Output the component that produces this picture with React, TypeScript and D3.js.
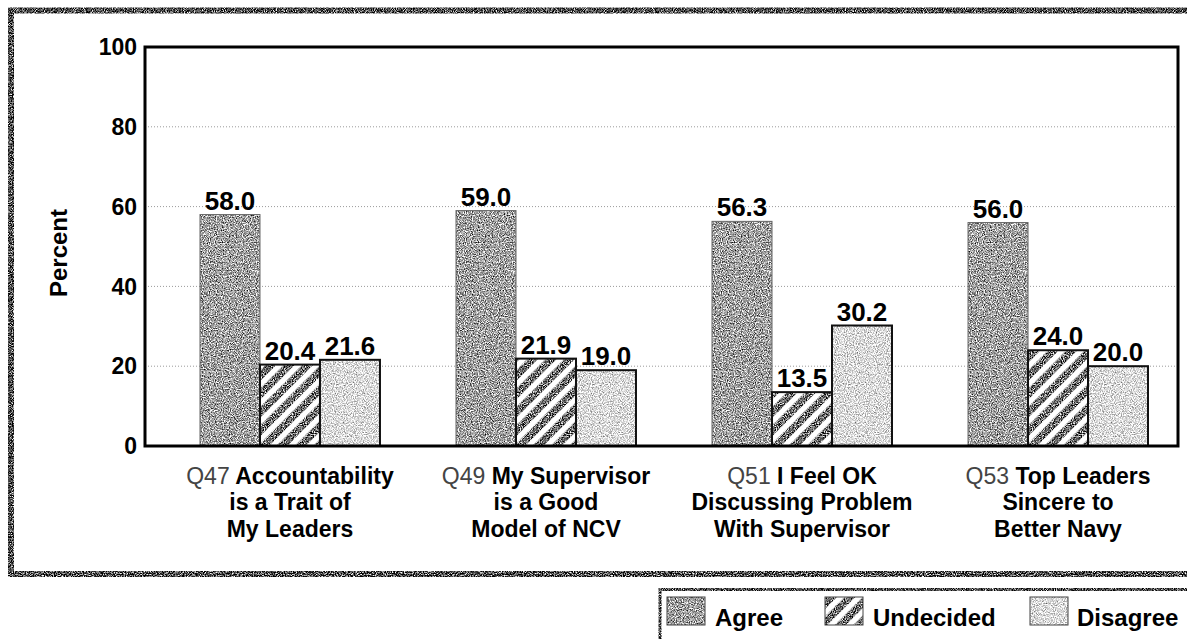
import React from "react";
import * as d3 from "d3";

const questionIds = ["Q47", "Q49", "Q51", "Q53"];
const labelLines = [
  ["Accountability", "is a Trait of", "My Leaders"],
  ["My Supervisor", "is a Good", "Model of NCV"],
  ["I Feel OK", "Discussing Problem", "With Supervisor"],
  ["Top Leaders", "Sincere to", "Better Navy"],
];
const seriesNames = ["Agree", "Undecided", "Disagree"];
const agree = [58.0, 59.0, 56.3, 56.0];
const undecided = [20.4, 21.9, 13.5, 24.0];
const disagree = [21.6, 19.0, 30.2, 20.0];
const yTicks = [0, 20, 40, 60, 80, 100];
const yLabel = "Percent";

const W = 1187;
const H = 639;
const FONT = "'Liberation Sans', Arial, Helvetica, sans-serif";

export default function App() {
  const seriesValues = [agree, undecided, disagree];
  const plot = { left: 145, right: 1178, top: 47, bottom: 446 };
  const y = d3.scaleLinear().domain([0, 100]).range([plot.bottom, plot.top]);
  const x0 = d3.scaleBand<string>().domain(questionIds).range([200, 1148]).paddingInner(0.297).paddingOuter(0);
  const x1 = d3.scaleBand<string>().domain(seriesNames).range([0, x0.bandwidth()]).padding(0);

  const fillFor = (s: string) =>
    s === "Agree" ? "url(#noiseAgree)" : s === "Undecided" ? "url(#noiseDark)" : "url(#noiseLight)";

  const renderSwatchFill = (s: string, x: number, yy: number, w: number, h: number, key: string) => (
    <g key={key}>
      <rect x={x} y={yy} width={w} height={h} fill="#000" filter={fillFor(s)} />
      {s === "Undecided" && <rect x={x} y={yy} width={w} height={h} fill="url(#stripes)" />}
    </g>
  );

  const legendX = [667, 825, 1030];
  const legendTextX = [715, 873, 1077];

  return (
    <svg width={W} height={H} style={{ position: "absolute", left: 0, top: 0, display: "block", background: "#fff" }} fontFamily={FONT}>
      <defs>
        <filter id="noiseAgree" x="0" y="0" width="100%" height="100%" colorInterpolationFilters="sRGB">
          <feTurbulence type="fractalNoise" baseFrequency="0.85" numOctaves={2} seed={3} result="t" />
          <feColorMatrix in="t" type="matrix" values="0 0 0 1.8 -0.27  0 0 0 1.8 -0.27  0 0 0 1.8 -0.27  0 0 0 0 1" result="g" />
          <feComposite in="g" in2="SourceGraphic" operator="in" />
        </filter>
        <filter id="noiseDark" x="0" y="0" width="100%" height="100%" colorInterpolationFilters="sRGB">
          <feTurbulence type="fractalNoise" baseFrequency="0.9" numOctaves={2} seed={7} result="t" />
          <feColorMatrix in="t" type="matrix" values="0 0 0 2.2 -0.68  0 0 0 2.2 -0.68  0 0 0 2.2 -0.68  0 0 0 0 1" result="g" />
          <feComposite in="g" in2="SourceGraphic" operator="in" />
        </filter>
        <filter id="noiseLight" x="0" y="0" width="100%" height="100%" colorInterpolationFilters="sRGB">
          <feTurbulence type="fractalNoise" baseFrequency="0.9" numOctaves={2} seed={11} result="t" />
          <feColorMatrix in="t" type="matrix" values="0 0 0 1.2 0.26  0 0 0 1.2 0.26  0 0 0 1.2 0.26  0 0 0 0 1" result="g" />
          <feComposite in="g" in2="SourceGraphic" operator="in" />
        </filter>
        <filter id="noiseFrame" filterUnits="userSpaceOnUse" x="0" y="0" width={W} height={H} colorInterpolationFilters="sRGB">
          <feTurbulence type="fractalNoise" baseFrequency="0.9" numOctaves={2} seed={5} result="t" />
          <feColorMatrix in="t" type="matrix" values="0 0 0 2.6 -1.0  0 0 0 2.6 -1.0  0 0 0 2.6 -1.0  0 0 0 0 1" result="g" />
          <feComposite in="g" in2="SourceGraphic" operator="in" />
        </filter>
        <pattern id="stripes" patternUnits="userSpaceOnUse" width={13} height={13} patternTransform="rotate(45)">
          <rect x={0} y={0} width={5.5} height={13} fill="#fff" />
        </pattern>
      </defs>

      {/* outer frame */}
      <rect x={11} y={10.5} width={W} height={563.5} fill="none" stroke="#000" strokeWidth={6} filter="url(#noiseFrame)" />

      {/* gridlines */}
      {yTicks.filter((t) => t > 0 && t < 100).map((t) => (
        <line key={"g" + t} x1={plot.left} x2={plot.right} y1={y(t)} y2={y(t)} stroke="#9a9a9a" strokeWidth={1} strokeDasharray="1 2" />
      ))}

      {/* bars */}
      {questionIds.map((q, i) => (
        <g key={q} transform={`translate(${x0(q)},0)`}>
          {seriesNames.map((s, j) => {
            const v = seriesValues[j][i];
            const bx = x1(s) as number;
            const bw = x1.bandwidth();
            const by = y(v);
            const bh = y(0) - y(v);
            return (
              <g key={s}>
                {renderSwatchFill(s, bx, by, bw, bh, "f")}
                <rect x={bx} y={by} width={bw} height={bh} fill="none" stroke={s === "Agree" ? "#666" : "#111"} strokeWidth={s === "Agree" ? 1 : 2} />
                <text x={bx + bw / 2} y={by - 5} textAnchor="middle" fontSize={26} fontWeight="bold" fill="#000">
                  {v.toFixed(1)}
                </text>
              </g>
            );
          })}
        </g>
      ))}

      {/* plot frame */}
      <rect x={plot.left} y={plot.top} width={plot.right - plot.left} height={plot.bottom - plot.top} fill="none" stroke="#000" strokeWidth={3} />

      {/* y ticks */}
      {yTicks.map((t) => (
        <text key={"t" + t} x={137} y={y(t)} dy="0.36em" textAnchor="end" fontSize={23} fontWeight="bold" fill="#000">
          {t}
        </text>
      ))}
      <text transform="translate(67,253) rotate(-90)" textAnchor="middle" fontSize={24} fontWeight="bold" fill="#000">
        {yLabel}
      </text>

      {/* category labels */}
      {questionIds.map((q, i) => {
        const cx = (x0(q) as number) + x0.bandwidth() / 2;
        const lines = labelLines[i];
        return (
          <g key={"l" + q}>
            <text x={cx} y={484} textAnchor="middle" fontSize={23} fontWeight="bold" fill="#000">
              <tspan fontWeight="normal" fill="#444">{q}</tspan>
              <tspan>{" " + lines[0]}</tspan>
            </text>
            <text x={cx} y={510} textAnchor="middle" fontSize={23} fontWeight="bold" fill="#000">{lines[1]}</text>
            <text x={cx} y={537} textAnchor="middle" fontSize={23} fontWeight="bold" fill="#000">{lines[2]}</text>
          </g>
        );
      })}

      {/* legend */}
      <rect x={660} y={589.5} width={W} height={H} fill="none" stroke="#000" strokeWidth={3} filter="url(#noiseFrame)" />
      {seriesNames.map((s, j) => (
        <g key={"lg" + s}>
          {renderSwatchFill(s, legendX[j], 597, 38, 28, "sw")}
          <rect x={legendX[j]} y={597} width={38} height={28} fill="none" stroke="#444" strokeWidth={1} />
          <text x={legendTextX[j]} y={626} fontSize={24} fontWeight="bold" fill="#000">{s}</text>
        </g>
      ))}
    </svg>
  );
}
